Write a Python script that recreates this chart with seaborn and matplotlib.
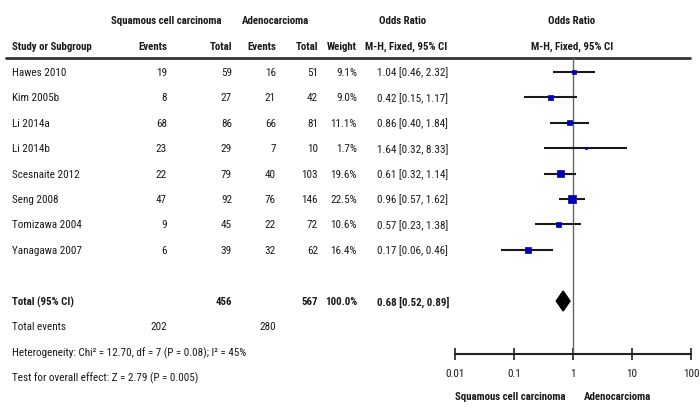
import matplotlib
matplotlib.use("Agg")
import matplotlib.pyplot as plt
import seaborn as sns
import pandas as pd
from matplotlib import font_manager
from matplotlib.font_manager import FontProperties

# ---------------- data ----------------
studies = ["Hawes 2010", "Kim 2005b", "Li 2014a", "Li 2014b", "Scesnaite 2012",
           "Seng 2008", "Tomizawa 2004", "Yanagawa 2007"]
scc_events = [19, 8, 68, 23, 22, 47, 9, 6]
scc_total = [59, 27, 86, 29, 79, 92, 45, 39]
ad_events = [16, 21, 66, 7, 40, 76, 22, 32]
ad_total = [51, 42, 81, 10, 103, 146, 72, 62]
weights = [9.1, 9.0, 11.1, 1.7, 19.6, 22.5, 10.6, 16.4]
or_est = [1.04, 0.42, 0.86, 1.64, 0.61, 0.96, 0.57, 0.17]
or_lo = [0.46, 0.15, 0.40, 0.32, 0.32, 0.57, 0.23, 0.06]
or_hi = [2.32, 1.17, 1.84, 8.33, 1.14, 1.62, 1.38, 0.46]

total_scc, total_ad = 456, 567
total_events_scc, total_events_ad = 202, 280
pooled_or, pooled_lo, pooled_hi = 0.68, 0.52, 0.89
heterogeneity = "Heterogeneity: Chi\u00b2 = 12.70, df = 7 (P = 0.08); I\u00b2 = 45%"
overall = "Test for overall effect: Z = 2.79 (P = 0.005)"
tick_values = [0.01, 0.1, 1, 10, 100]
tick_labels = ["0.01", "0.1", "1", "10", "100"]
favours = ["Squamous cell carcinoma", "Adenocarcioma"]

# ---------------- fonts ----------------
sns.set_style("white")
plt.rcParams["font.family"] = ["Liberation Sans", "DejaVu Sans"]

def find_font(bold):
    prefs = ["liberationsansnarrow", "robotocondensed", "notosans-condensed",
             "notosanscondensed", "opensanscondensed", "dejavusanscondensed"]
    cands = []
    for f in font_manager.fontManager.ttflist:
        fn = f.fname.lower().replace("_", "").replace(" ", "")
        base = fn.rsplit("/", 1)[-1]
        if ("italic" in base) or ("oblique" in base):
            continue
        if not ("narrow" in base or "condensed" in base):
            continue
        if "semicondensed" in base or "extracondensed" in base:
            continue
        isbold = ("bold" in base) and ("semibold" not in base) and ("extrabold" not in base)
        if isbold != bold:
            continue
        if not bold and any(k in base for k in ["light", "thin", "medium", "black", "semibold", "extrabold"]):
            continue
        rank = next((i for i, p in enumerate(prefs) if p in base), None)
        if rank is None:
            continue
        cands.append((rank, f.fname))
    if cands:
        cands.sort()
        return FontProperties(fname=cands[0][1])
    return FontProperties(family=["Liberation Sans", "DejaVu Sans"],
                          weight="bold" if bold else "normal")

fp_reg = find_font(False)
fp_bold = find_font(True)

W, H = 700, 410
fig = plt.figure(figsize=(7, 4.1), dpi=100)
bg = fig.add_axes([0, 0, 1, 1])
bg.set_xlim(0, W)
bg.set_ylim(H, 0)
bg.axis("off")
renderer = fig.canvas.get_renderer()

def width_of(s, fp, size):
    p = fp.copy()
    p.set_size(size)
    tt = bg.text(0, 0, s, fontproperties=p)
    w = tt.get_window_extent(renderer).width
    tt.remove()
    return w

FS = 10 * 54 / width_of("Hawes 2010", fp_reg, 10)
FSB = 10 * 81 / width_of("Study or Subgroup", fp_bold, 10)
fp_reg.set_size(FS)
fp_bold.set_size(FSB)
TXT = "#1a1a1a"

def t(x, y, s, ha="left", bold=False):
    bg.text(x, y, s, ha=ha, va="center", color=TXT,
            fontproperties=fp_bold if bold else fp_reg)

# column anchors (pixels)
X_STUDY, X_SE, X_ST, X_AE, X_AT, X_W, X_OR = 12, 167, 232, 276, 318, 357, 377
row0, dy = 73, 25.4
ys = [row0 + i * dy for i in range(len(studies))]
Y_TOTAL, Y_TEV, Y_HET, Y_OV = 302, 327, 353, 378

# headers
t(166, 21, "Squamous cell carcinoma", ha="center", bold=True)
t(276, 21, "Adenocarcioma", ha="center", bold=True)
t(403, 21, "Odds Ratio", ha="center", bold=True)
t(572, 21, "Odds Ratio", ha="center", bold=True)
t(X_STUDY, 47, "Study or Subgroup", bold=True)
t(X_SE, 47, "Events", ha="right", bold=True)
t(X_ST, 47, "Total", ha="right", bold=True)
t(X_AE, 47, "Events", ha="right", bold=True)
t(X_AT, 47, "Total", ha="right", bold=True)
t(X_W, 47, "Weight", ha="right", bold=True)
t(406, 47, "M-H, Fixed, 95% CI", ha="center", bold=True)
t(572, 47, "M-H, Fixed, 95% CI", ha="center", bold=True)
bg.plot([6, 690], [59, 59], color="#333333", lw=2)

for i, y in enumerate(ys):
    t(X_STUDY, y, studies[i])
    t(X_SE, y, str(scc_events[i]), ha="right")
    t(X_ST, y, str(scc_total[i]), ha="right")
    t(X_AE, y, str(ad_events[i]), ha="right")
    t(X_AT, y, str(ad_total[i]), ha="right")
    t(X_W, y, f"{weights[i]:.1f}%", ha="right")
    t(X_OR, y, f"{or_est[i]:.2f} [{or_lo[i]:.2f}, {or_hi[i]:.2f}]")

t(X_STUDY, Y_TOTAL, "Total (95% CI)", bold=True)
t(X_ST, Y_TOTAL, str(total_scc), ha="right", bold=True)
t(X_AT, Y_TOTAL, str(total_ad), ha="right", bold=True)
t(X_W, Y_TOTAL, "100.0%", ha="right", bold=True)
t(X_OR, Y_TOTAL, f"{pooled_or:.2f} [{pooled_lo:.2f}, {pooled_hi:.2f}]", bold=True)
t(X_STUDY, Y_TEV, "Total events")
t(X_SE, Y_TEV, str(total_events_scc), ha="right")
t(X_AE, Y_TEV, str(total_events_ad), ha="right")
t(X_STUDY, Y_HET, heterogeneity)
t(X_STUDY, Y_OV, overall)

# ---------------- forest panel ----------------
AX_L, AX_R, AX_TOP, AX_BOT = 455, 691, 59, 355
ax = fig.add_axes([AX_L / W, (H - AX_BOT) / H, (AX_R - AX_L) / W, (AX_BOT - AX_TOP) / H])
ax.set_facecolor("none")
ax.set_xscale("log")
ax.set_xlim(tick_values[0], tick_values[-1])
ax.set_ylim(AX_BOT, AX_TOP)
for s in ["top", "left", "right"]:
    ax.spines[s].set_visible(False)
ax.spines["bottom"].set_color("#222222")
ax.spines["bottom"].set_linewidth(1.5)
ax.set_yticks([])
ax.set_xticks(tick_values)
ax.set_xticklabels(tick_labels)
ax.xaxis.set_minor_locator(matplotlib.ticker.NullLocator())
ax.tick_params(axis="x", direction="inout", length=8, width=1.2, color="#222222",
               labelcolor=TXT, pad=6, bottom=True)
for lab in ax.get_xticklabels():
    lab.set_fontproperties(fp_reg)
ax.axvline(1, color="#666666", lw=1, zorder=1)

df = pd.DataFrame({"or": or_est, "lo": or_lo, "hi": or_hi, "w": weights, "y": ys})
ax.hlines(df["y"], df["lo"], df["hi"], color="#1a1a1a", lw=1.5, zorder=2)
sns.scatterplot(data=df, x="or", y="y", size="w", size_norm=(1.7, 22.5),
                sizes=(1.7 * 1.2, 22.5 * 1.2), marker="s", color="#0000b4",
                edgecolor="#0000b4", linewidth=0.5, legend=False, ax=ax, zorder=3)
ax.set_xlabel("")
ax.set_ylabel("")
ax.fill([pooled_lo, pooled_or, pooled_hi, pooled_or],
        [Y_TOTAL, Y_TOTAL - 10, Y_TOTAL, Y_TOTAL + 10], color="black", zorder=3)

t(510, 397, favours[0], ha="center", bold=True)
t(618, 397, favours[1], ha="center", bold=True)

fig.savefig("out.png", dpi=100)
